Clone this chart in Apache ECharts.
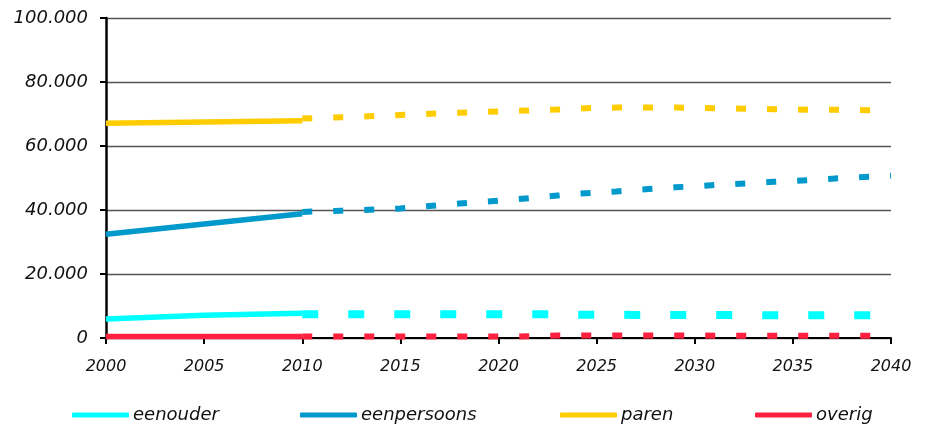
<!DOCTYPE html>
<html>
<head>
<meta charset="utf-8">
<script src="https://cdn.jsdelivr.net/npm/echarts@6/dist/echarts.min.js"></script>
<style>
  html, body { margin: 0; padding: 0; background: #fff; }
  #chart { width: 925px; height: 425px; }
</style>
</head>
<body>
<div id="chart"></div>
<script>
// waarneming 2000-2010
var obsYears = [2000, 2005, 2010];
var obsEenouder = [5900, 7100, 7700];
var obsEenpersoons = [32400, 35600, 38800];
var obsParen = [67100, 67500, 67900];
var obsOverig = [500, 500, 500];

// prognose 2010-2040
var progYears = [2010, 2011, 2012, 2013, 2014, 2015, 2016, 2017, 2018, 2019, 2020,
  2021, 2022, 2023, 2024, 2025, 2026, 2027, 2028, 2029, 2030,
  2031, 2032, 2033, 2034, 2035, 2036, 2037, 2038, 2039, 2040];
var progEenouder = [7400, 7400, 7400, 7400, 7400, 7400, 7400, 7400, 7400, 7400, 7400,
  7400, 7400, 7400, 7300, 7300, 7300, 7200, 7200, 7200, 7200,
  7200, 7200, 7100, 7100, 7100, 7100, 7100, 7100, 7100, 7100];
var progEenpersoons = [39400, 39600, 39800, 40000, 40200, 40500, 41000, 41500, 42000, 42500, 42900,
  43400, 43900, 44500, 45100, 45400, 45800, 46300, 46700, 47100, 47400,
  47800, 48100, 48400, 48800, 49100, 49400, 49800, 50100, 50400, 50700];
var progParen = [68600, 68800, 69000, 69200, 69500, 69700, 69900, 70200, 70400, 70600, 70800,
  71000, 71200, 71400, 71700, 71900, 72000, 72000, 72000, 72000, 71900,
  71800, 71700, 71600, 71500, 71400, 71300, 71300, 71300, 71200, 71200];
var progOverig = [500, 500, 500, 500, 500, 500, 500, 500, 500, 500, 500,
  500, 600, 800, 800, 800, 800, 800, 800, 800, 800,
  700, 700, 700, 700, 700, 700, 700, 700, 700, 600];

var names = ['eenouder', 'eenpersoons', 'paren', 'overig'];
var colors = ['#00ffff', '#0099cc', '#ffcc00', '#ff2040'];
var obsData = [obsEenouder, obsEenpersoons, obsParen, obsOverig];
var progData = [progEenouder, progEenpersoons, progParen, progOverig];

function pairs(xs, ys) {
  var out = [];
  for (var i = 0; i < xs.length; i++) out.push([xs[i], ys[i]]);
  return out;
}

var series = [];
names.forEach(function (name, i) {
  series.push({
    name: name,
    type: 'line',
    data: pairs(obsYears, obsData[i]),
    symbol: 'none',
    color: colors[i],
    lineStyle: { color: colors[i], width: 5.5 }
  });
});
names.forEach(function (name, i) {
  var eenouder = i === 0;
  series.push({
    name: name,
    type: 'line',
    data: pairs(progYears, progData[i]),
    symbol: 'none',
    color: colors[i],
    lineStyle: {
      color: colors[i],
      width: eenouder ? 8 : 6,
      type: eenouder ? [16, 30] : [10, 21],
      cap: 'butt'
    }
  });
});

var legendLefts = [72, 300, 560, 755];
var legends = names.map(function (name, i) {
  return {
    data: [name],
    left: legendLefts[i],
    top: 406,
    padding: 0,
    icon: 'roundRect',
    itemWidth: 57,
    itemHeight: 5,
    itemGap: 0,
    textStyle: {
      fontFamily: 'DejaVu Sans',
      fontStyle: 'italic',
      fontSize: 18,
      color: '#111',
      padding: [0, 0, 0, -1]
    }
  };
});

var option = {
  animation: false,
  backgroundColor: '#fff',
  legend: legends,
  grid: { left: 106, right: 34, top: 18, bottom: 87 },
  xAxis: {
    type: 'value',
    min: 2000,
    max: 2040,
    interval: 5,
    axisLine: { lineStyle: { color: '#000', width: 2 } },
    axisTick: { length: 6, lineStyle: { color: '#000', width: 2 } },
    splitLine: { show: false },
    axisLabel: {
      margin: 21,
      fontFamily: 'DejaVu Sans',
      fontStyle: 'italic',
      fontSize: 16,
      color: '#111',
      formatter: function (v) { return String(v); }
    }
  },
  yAxis: {
    type: 'value',
    min: 0,
    max: 100000,
    interval: 20000,
    axisLine: { show: true, lineStyle: { color: '#000', width: 2.5 } },
    axisTick: { show: true, length: 6, lineStyle: { color: '#000', width: 2 } },
    splitLine: { lineStyle: { color: '#555', width: 1.3 } },
    axisLabel: {
      margin: 18,
      fontFamily: 'DejaVu Sans',
      fontStyle: 'italic',
      fontSize: 18,
      color: '#111',
      formatter: function (v) { return v === 0 ? '0' : (v / 1000) + '.000'; }
    }
  },
  series: series
};

echarts.init(document.getElementById('chart')).setOption(option);
</script>
</body>
</html>
